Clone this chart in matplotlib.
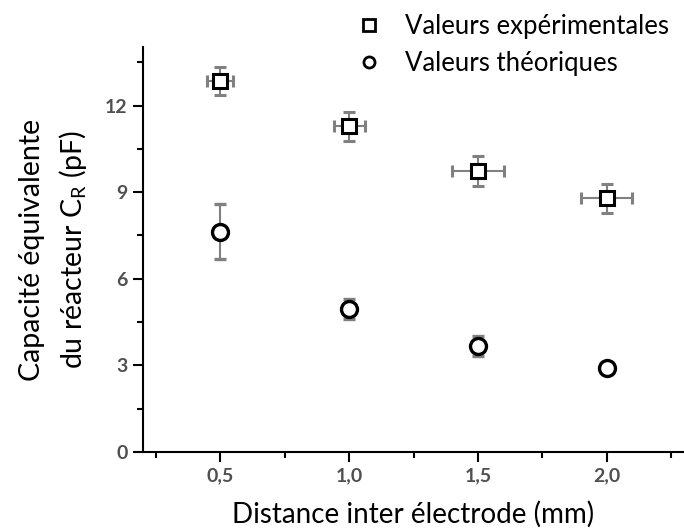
import matplotlib
matplotlib.use("Agg")
import matplotlib.pyplot as plt
from matplotlib.lines import Line2D
from matplotlib.ticker import MultipleLocator, FixedLocator

plt.rcParams['font.family'] = ['Lato', 'DejaVu Sans']
plt.rcParams['mathtext.fontset'] = 'custom'
plt.rcParams['mathtext.rm'] = 'Lato'
plt.rcParams['mathtext.it'] = 'Lato:italic'

distance = [0.5, 1.0, 1.5, 2.0]
exp_values = [12.84, 11.28, 9.72, 8.79]
exp_yerr = [0.48, 0.5, 0.52, 0.5]
exp_xerr = [0.05, 0.06, 0.1, 0.1]
theo_values = [7.63, 4.95, 3.66, 2.9]
theo_yerr = [0.95, 0.35, 0.35, 0.1]

x_ticks = [0.5, 1.0, 1.5, 2.0]
x_tick_labels = ['0,5', '1,0', '1,5', '2,0']
y_ticks = [0, 3, 6, 9, 12]

fig = plt.figure(figsize=(6.84, 5.31), dpi=100)
ax = fig.add_axes([143/684, 79/531, 541/684, 405/531])

ecol = '#808080'
ax.errorbar(distance, exp_values, yerr=exp_yerr, xerr=exp_xerr, fmt='s',
            mfc='white', mec='black', mew=2.2, ms=10.5, ecolor=ecol,
            elinewidth=1.5, capsize=4, capthick=1.5, zorder=3)
ax.errorbar(distance, theo_values, yerr=theo_yerr, fmt='o',
            mfc='white', mec='black', mew=2.4, ms=11.5, ecolor=ecol,
            elinewidth=1.5, capsize=4, capthick=1.5, zorder=3)

ax.set_xlim(0.2, 2.3)
ax.set_ylim(0, 14.03)
ax.spines['top'].set_visible(False)
ax.spines['right'].set_visible(False)
for s in ['left', 'bottom']:
    ax.spines[s].set_linewidth(1.5)

ax.xaxis.set_major_locator(FixedLocator(x_ticks))
ax.set_xticklabels(x_tick_labels)
ax.xaxis.set_minor_locator(MultipleLocator(0.25))
ax.yaxis.set_major_locator(FixedLocator(y_ticks))
ax.yaxis.set_minor_locator(MultipleLocator(1.5))
ax.tick_params(which='major', direction='out', length=7, width=1.5,
               labelsize=14, labelcolor='#505050', pad=4)
ax.tick_params(which='minor', direction='out', length=4, width=1.5)
for lab in ax.get_xticklabels() + ax.get_yticklabels():
    lab.set_fontweight('bold')

ax.set_xlabel('Distance inter électrode (mm)', fontsize=20, labelpad=12)
ax.set_ylabel('Capacité équivalente\ndu réacteur C$_\\mathrm{R}$ (pF)',
              fontsize=20.5, labelpad=12, linespacing=1.45)

handles = [Line2D([], [], marker='s', ls='none', mfc='white', mec='black',
                  mew=2.0, ms=8),
           Line2D([], [], marker='o', ls='none', mfc='white', mec='black',
                  mew=2.0, ms=8)]
fig.legend(handles, ['Valeurs expérimentales', 'Valeurs théoriques'],
           loc='upper right', bbox_to_anchor=(0.997, 0.997), frameon=False,
           fontsize=18.5, handletextpad=0.9, labelspacing=0.46,
           borderaxespad=0.1, handlelength=1.0)

fig.savefig('out.png', dpi=100)
